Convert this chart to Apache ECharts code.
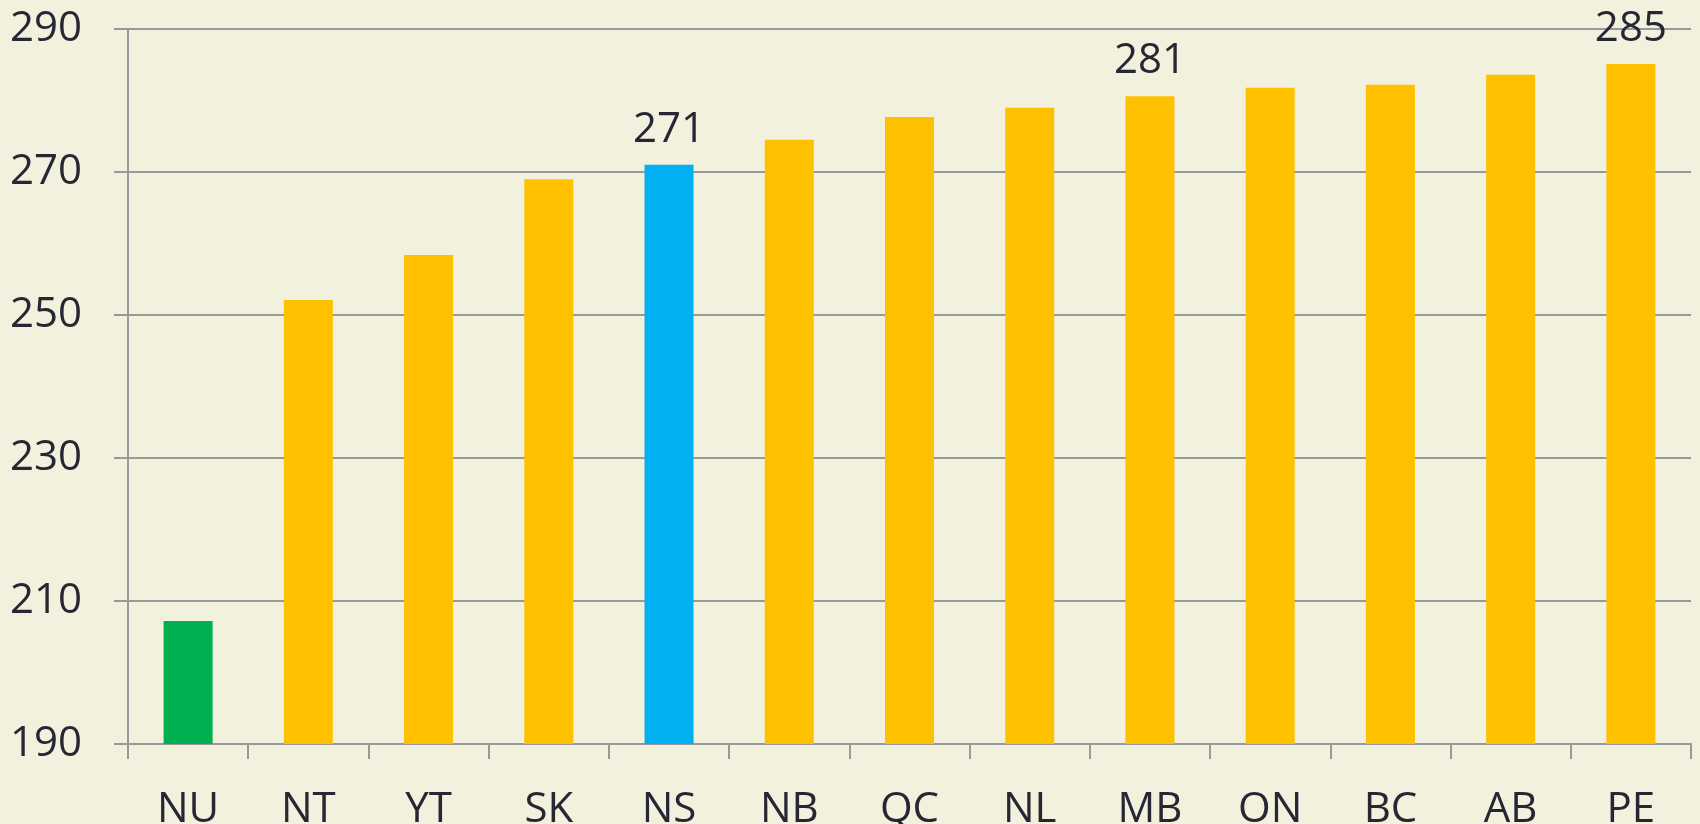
<!DOCTYPE html>
<html>
<head>
<meta charset="utf-8">
<script src="https://cdn.jsdelivr.net/npm/echarts@6/dist/echarts.min.js"></script>
<style>
html,body{margin:0;padding:0;background:#F2F1DE;}
#c{width:1700px;height:824px;}
</style>
</head>
<body>
<div id="c"></div>
<script>
const categories = ['NU','NT','YT','SK','NS','NB','QC','NL','MB','ON','BC','AB','PE'];
const values = [207.2, 252.1, 258.4, 269.0, 271.0, 274.5, 277.7, 279.0, 280.6, 281.8, 282.2, 283.6, 285.1];
const barColors = ['#00B050','#FFC000','#FFC000','#FFC000','#00B0F0','#FFC000','#FFC000','#FFC000','#FFC000','#FFC000','#FFC000','#FFC000','#FFC000'];
const shownLabels = {NS:'271', MB:'281', PE:'285'};
const yTicks = [190, 210, 230, 250, 270, 290];

const textColor = '#272734';
const lineColor = '#999999';
const font = 'Open Sans';

const chart = echarts.init(document.getElementById('c'));
chart.setOption({
  backgroundColor: '#F2F1DE',
  animation: false,
  grid: {left: 128, right: 9, top: 29, bottom: 80, containLabel: false, outerBoundsMode: 'none'},
  xAxis: {
    type: 'category',
    data: categories,
    boundaryGap: true,
    axisLine: {show: true, lineStyle: {color: lineColor, width: 2}},
    axisTick: {show: true, length: 15, lineStyle: {color: lineColor, width: 2}},
    axisLabel: {color: textColor, fontFamily: font, fontSize: 42, margin: 45}
  },
  yAxis: {
    type: 'value',
    min: yTicks[0],
    max: yTicks[yTicks.length - 1],
    interval: 20,
    axisLine: {show: true, lineStyle: {color: lineColor, width: 2}},
    axisTick: {show: true, length: 14, lineStyle: {color: lineColor, width: 2}},
    splitLine: {show: true, lineStyle: {color: lineColor, width: 2}},
    axisLabel: {color: textColor, fontFamily: font, fontSize: 42, margin: 46}
  },
  series: [{
    type: 'bar',
    barWidth: 49,
    data: values.map((v, i) => ({
      value: v,
      itemStyle: {color: barColors[i]},
      label: {
        show: !!shownLabels[categories[i]],
        position: 'top',
        distance: 14,
        formatter: shownLabels[categories[i]] || '',
        color: textColor,
        fontFamily: font,
        fontSize: 42
      }
    }))
  }]
});
</script>
</body>
</html>
